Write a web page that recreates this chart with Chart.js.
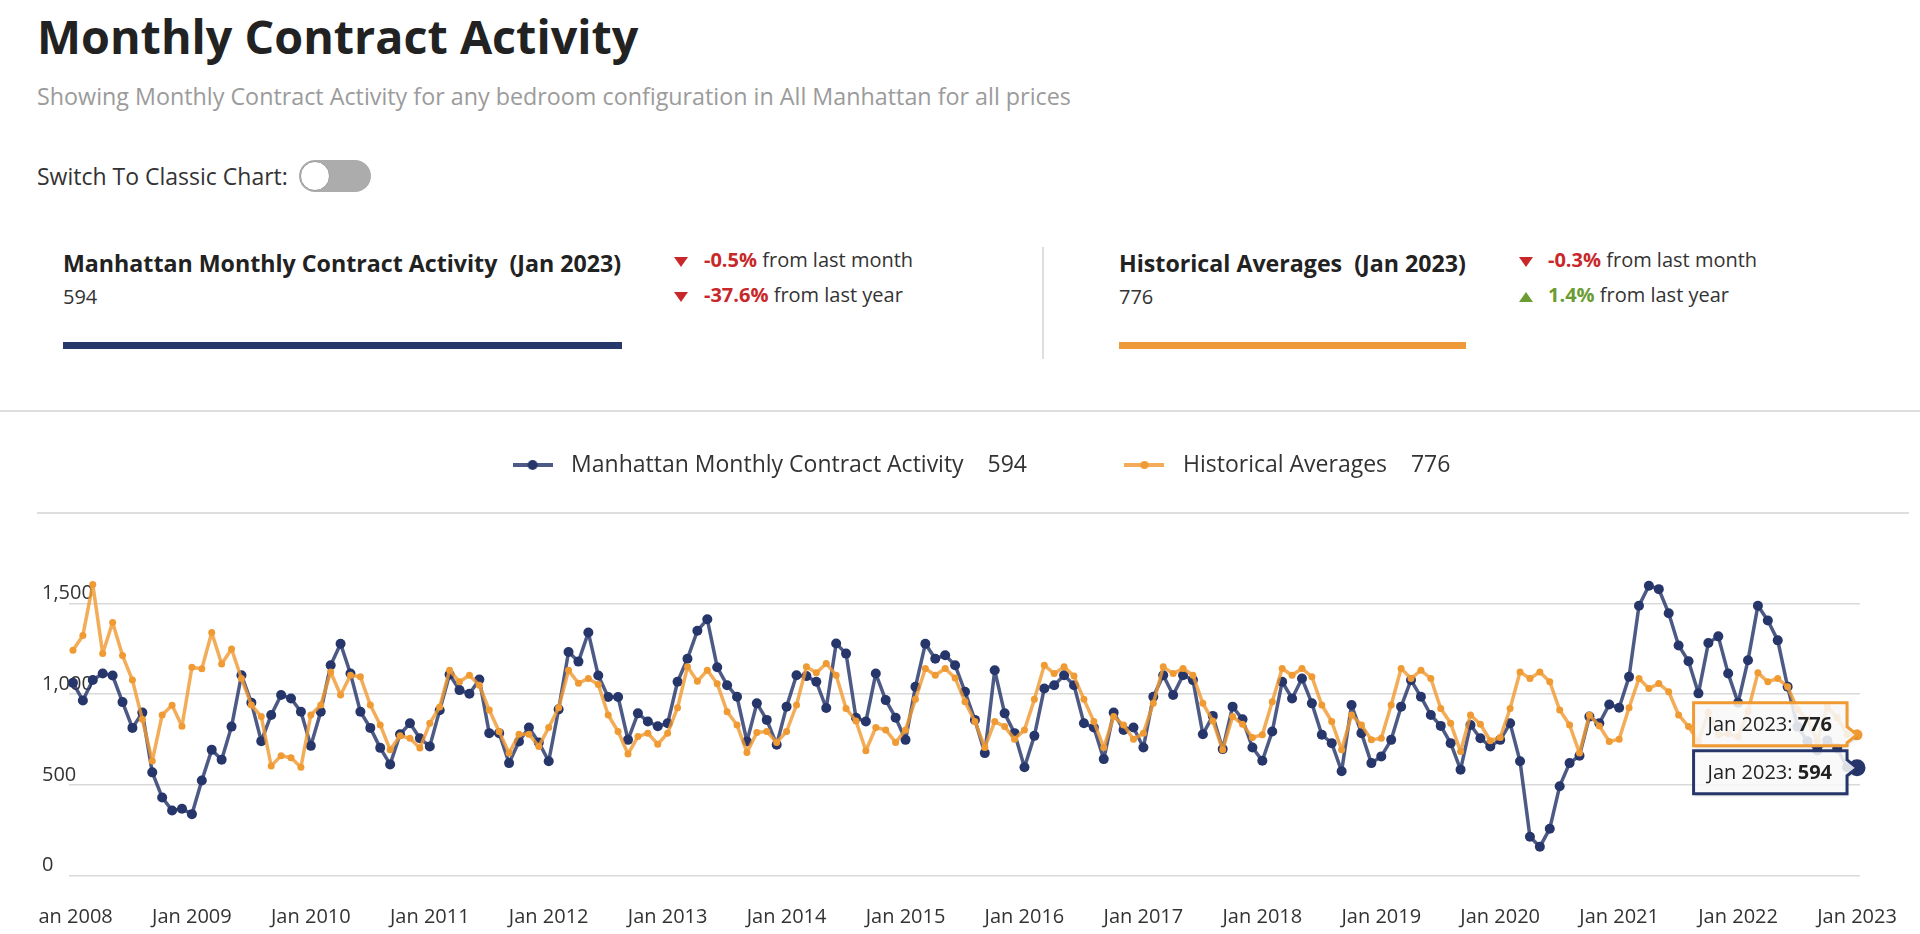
<!DOCTYPE html>
<html>
<head>
<meta charset="utf-8">
<script src="https://cdn.jsdelivr.net/npm/chart.js@4.4.1/dist/chart.umd.min.js"></script>
<style>
html, body { margin: 0; padding: 0; background: #fff; }
body { width: 1920px; height: 934px; position: relative; overflow: hidden; font-family: "Open Sans", sans-serif; color: #333; }
.abs { position: absolute; white-space: nowrap; line-height: 1; }
#title { left: 37px; top: 13px; font-size: 46.7px; font-weight: 700; color: #222; }
#subtitle { left: 37px; top: 85px; font-size: 23.3px; color: #9b9b9b; }
#switchText { left: 37px; top: 165px; font-size: 23px; color: #333; }
#toggle { position: absolute; left: 299px; top: 160px; width: 72px; height: 32px; border-radius: 16px; background: #acacac; }
#toggle .knob { position: absolute; left: 1px; top: 1px; width: 28px; height: 28px; border-radius: 50%; background: #fff; border: 1px solid #999; }
.cardTitle { font-size: 23.2px; font-weight: 700; color: #222; top: 252px; }
.cardValue { font-size: 20px; top: 287px; color: #333; }
.bar { position: absolute; top: 342px; height: 7px; }
.change { font-size: 20px; color: #333; }
.red { color: #c8282a; font-weight: 700; }
.green { color: #6b9c33; font-weight: 700; }
.down { position: absolute; width: 0; height: 0; border-left: 7px solid transparent; border-right: 7px solid transparent; border-top: 10px solid #c8282a; }
.up { position: absolute; width: 0; height: 0; border-left: 7px solid transparent; border-right: 7px solid transparent; border-bottom: 10px solid #6b9c33; }
.line { position: absolute; background: #dedede; }
#chartBox { position: absolute; left: 37px; top: 411px; width: 1876px; height: 523px; }
</style>
</head>
<body>
<div id="title" class="abs">Monthly Contract Activity</div>
<div id="subtitle" class="abs">Showing Monthly Contract Activity for any bedroom configuration in All Manhattan for all prices</div>
<div id="switchText" class="abs">Switch To Classic Chart:</div>
<div id="toggle"><div class="knob"></div></div>

<div class="abs cardTitle" style="left:63px">Manhattan Monthly Contract Activity&nbsp; (Jan 2023)</div>
<div class="abs cardValue" style="left:63px">594</div>
<div class="bar" style="left:63px;width:559px;background:#27386a"></div>
<div class="down" style="left:674px;top:257px"></div>
<div class="abs change" style="left:704px;top:250px"><span class="red">-0.5%</span> from last month</div>
<div class="down" style="left:674px;top:292px"></div>
<div class="abs change" style="left:704px;top:285px"><span class="red">-37.6%</span> from last year</div>

<div class="line" style="left:1042px;top:247px;width:2px;height:112px"></div>

<div class="abs cardTitle" style="left:1119px">Historical Averages&nbsp; (Jan 2023)</div>
<div class="abs cardValue" style="left:1119px">776</div>
<div class="bar" style="left:1119px;width:347px;background:#ee9a3a"></div>
<div class="down" style="left:1519px;top:257px"></div>
<div class="abs change" style="left:1548px;top:250px"><span class="red">-0.3%</span> from last month</div>
<div class="up" style="left:1519px;top:292px"></div>
<div class="abs change" style="left:1548px;top:285px"><span class="green">1.4%</span> from last year</div>

<div class="line" style="left:0;top:410px;width:1920px;height:2px"></div>
<div class="line" style="left:37px;top:512px;width:1872px;height:2px"></div>

<div id="chartBox"><canvas id="chart" width="1876" height="523"></canvas></div>

<script>
const startYear = 2008;
const monthNames = ['Jan', 'Feb', 'Mar', 'Apr', 'May', 'Jun', 'Jul', 'Aug', 'Sep', 'Oct', 'Nov', 'Dec'];
const yearLabels = ['Jan 2008', 'Jan 2009', 'Jan 2010', 'Jan 2011', 'Jan 2012', 'Jan 2013', 'Jan 2014', 'Jan 2015',
  'Jan 2016', 'Jan 2017', 'Jan 2018', 'Jan 2019', 'Jan 2020', 'Jan 2021', 'Jan 2022', 'Jan 2023'];
const yTickValues = [0, 500, 1000, 1500];

// monthly values, Jan 2008 .. Jan 2023
const contractActivity = [
  1062, 965, 1078, 1113, 1102, 956, 814, 898, 569, 431, 359, 369,
  339, 524, 693, 639, 821, 1104, 953, 741, 885, 995, 976, 903,
  715, 903, 1159, 1277, 1113, 903, 814, 704, 613, 779, 839, 757,
  712, 911, 1108, 1022, 1002, 1080, 785, 785, 620, 739, 816, 734,
  630, 916, 1232, 1179, 1339, 1102, 984, 984, 748, 894, 849, 823,
  839, 1068, 1195, 1349, 1412, 1148, 1049, 985, 739, 949, 858, 721,
  931, 1104, 1099, 1068, 923, 1279, 1223, 870, 849, 1113, 967, 870,
  748, 1040, 1277, 1195, 1214, 1159, 1013, 858, 675, 1131, 894, 785,
  597, 770, 1031, 1049, 1104, 1049, 839, 816, 642, 898, 803, 816,
  706, 985, 1104, 995, 1104, 1077, 779, 880, 697, 931, 861, 706,
  633, 794, 1068, 976, 1086, 949, 776, 730, 575, 940, 785, 620,
  657, 748, 931, 1077, 985, 885, 825, 730, 584, 830, 757, 712,
  748, 839, 630, 214, 159, 259, 493, 620, 661, 876, 839, 943,
  925, 1095, 1487, 1597, 1578, 1445, 1268, 1181, 1004, 1281, 1318, 1113,
  952, 1186, 1487, 1405, 1296, 1040, 820, 740, 690, 745, 700, 597,
  594
];
const historicalAverages = [
  1241, 1323, 1604, 1224, 1394, 1212, 1077, 861, 631, 885, 938, 823,
  1148, 1139, 1339, 1166, 1248, 1086, 940, 876, 604, 661, 650, 597,
  885, 940, 1122, 995, 1104, 1095, 940, 830, 693, 770, 757, 703,
  839, 929, 1131, 1068, 1104, 1049, 912, 794, 675, 779, 779, 712,
  816, 925, 1131, 1060, 1086, 1053, 885, 794, 670, 766, 785, 724,
  785, 925, 1150, 1071, 1131, 1057, 903, 830, 679, 788, 794, 734,
  794, 940, 1150, 1117, 1168, 1104, 921, 852, 688, 816, 803, 734,
  803, 971, 1141, 1104, 1141, 1089, 958, 849, 706, 849, 821, 752,
  803, 971, 1159, 1113, 1150, 1099, 971, 849, 706, 876, 830, 752,
  785, 949, 1150, 1113, 1141, 1104, 949, 852, 693, 876, 834, 761,
  776, 958, 1141, 1104, 1141, 1095, 940, 849, 693, 885, 830, 748,
  757, 940, 1141, 1086, 1131, 1086, 921, 839, 684, 885, 834, 743,
  761, 921, 1122, 1086, 1122, 1068, 912, 830, 675, 885, 825, 739,
  752, 925, 1086, 1031, 1058, 1013, 885, 821, 739, 900, 776, 781,
  765, 906, 1117, 1068, 1086, 1040, 915, 860, 741, 930, 870, 778,
  776
];

const navy = '#26366a';
const navyLine = 'rgba(38, 54, 106, 0.82)';
const orange = '#f09a33';
const orangeLine = 'rgba(240, 154, 51, 0.82)';
const last = contractActivity.length - 1;

Chart.defaults.font.family = '"Open Sans", sans-serif';
Chart.defaults.color = '#333';

function legendSymbol(dot, line, r) {
  const c = document.createElement('canvas');
  c.width = 40;
  c.height = 14;
  const g = c.getContext('2d');
  g.strokeStyle = line;
  g.lineWidth = 4;
  g.beginPath();
  g.moveTo(0, 7);
  g.lineTo(40, 7);
  g.stroke();
  g.fillStyle = dot;
  g.beginPath();
  g.arc(20, 7, r, 0, Math.PI * 2);
  g.fill();
  return c;
}
const symbols = [legendSymbol(navy, navyLine, 5), legendSymbol(orange, orangeLine, 4)];

function monthLabel(i) {
  return monthNames[i % 12] + ' ' + (startYear + Math.floor(i / 12));
}

// more room between the legend and the plot
const legendSpacing = {
  id: 'legendSpacing',
  beforeInit(chart) {
    const fit = chart.legend.fit;
    chart.legend.fit = function () {
      fit.call(this);
      this.height += 26;
    };
  }
};

// the two hover boxes at the last point
const endTooltips = {
  id: 'endTooltips',
  afterDraw(chart) {
    const ctx = chart.ctx;
    const h = 43, gap = 5;
    const items = chart.data.datasets.map((ds, i) => {
      const pt = chart.getDatasetMeta(i).data[last];
      return { x: pt.x, y: pt.y, value: ds.data[last].y, color: ds.tipColor };
    }).sort((a, b) => a.y - b.y);
    items.forEach(it => { it.top = it.y - h / 2; });
    const overlap = items[0].top + h + gap - items[1].top;
    if (overlap > 0) {
      items[0].top -= overlap / 2 + 3;
      items[1].top += overlap / 2 - 3;
    }
    items.forEach(it => {
      const pre = monthLabel(last) + ': ';
      const val = String(it.value);
      ctx.save();
      ctx.font = '20px "Open Sans"';
      const w1 = ctx.measureText(pre).width;
      ctx.font = 'bold 20px "Open Sans"';
      const w2 = ctx.measureText(val).width;
      const w = w1 + w2 + 29;
      const right = it.x - 10, left = right - w, top = it.top, bottom = top + h;
      const ay = Math.min(Math.max(it.y, top + 10), bottom - 10);
      ctx.beginPath();
      ctx.moveTo(left, top);
      ctx.lineTo(right, top);
      ctx.lineTo(right, ay - 8);
      ctx.lineTo(it.x, it.y);
      ctx.lineTo(right, ay + 8);
      ctx.lineTo(right, bottom);
      ctx.lineTo(left, bottom);
      ctx.closePath();
      ctx.shadowColor = 'rgba(0,0,0,0.2)';
      ctx.shadowOffsetX = 1;
      ctx.shadowOffsetY = 2;
      ctx.shadowBlur = 3;
      ctx.fillStyle = 'rgba(255,255,255,0.85)';
      ctx.fill();
      ctx.shadowColor = 'transparent';
      ctx.lineWidth = 3;
      ctx.strokeStyle = it.color;
      ctx.lineJoin = 'miter';
      ctx.stroke();
      ctx.fillStyle = '#222';
      ctx.textBaseline = 'middle';
      ctx.textAlign = 'left';
      ctx.font = '20px "Open Sans"';
      ctx.fillText(pre, left + 14, top + h / 2 + 1);
      ctx.font = 'bold 20px "Open Sans"';
      ctx.fillText(val, left + 14 + w1, top + h / 2 + 1);
      ctx.restore();
    });
  }
};

new Chart(document.getElementById('chart'), {
  type: 'line',
  data: {
    datasets: [
      {
        label: 'Manhattan Monthly Contract Activity',
        data: contractActivity.map((v, i) => ({ x: i, y: v })),
        borderColor: navyLine,
        backgroundColor: navy,
        pointBackgroundColor: navy,
        pointBorderWidth: 0,
        pointRadius: c => c.dataIndex === last ? 8.5 : 5,
        borderWidth: 3.5,
        borderJoinStyle: 'round',
        order: 1,
        clip: false,
        tipColor: navy
      },
      {
        label: 'Historical Averages',
        data: historicalAverages.map((v, i) => ({ x: i, y: v })),
        borderColor: orangeLine,
        backgroundColor: orange,
        pointBackgroundColor: orange,
        pointBorderWidth: 0,
        pointRadius: c => c.dataIndex === last ? 5.5 : 3.5,
        borderWidth: 3.5,
        borderJoinStyle: 'round',
        order: 0,
        clip: false,
        tipColor: orange
      }
    ]
  },
  options: {
    responsive: false,
    animation: false,
    events: [],
    layout: { padding: { top: 32.5, left: 32, right: 26, bottom: 5 } },
    plugins: {
      tooltip: { enabled: false },
      legend: {
        position: 'top',
        labels: {
          usePointStyle: true,
          pointStyleWidth: 54,
          padding: 10,
          color: '#333',
          font: { size: 23 },
          generateLabels(chart) {
            return chart.data.datasets.map((ds, i) => ({
              text: ds.label + '    ' + ds.data[last].y + (i === 0 ? '\u2003\u2003\u2003\u2002' : ''),
              pointStyle: symbols[i],
              datasetIndex: i,
              fillStyle: ds.backgroundColor,
              strokeStyle: ds.backgroundColor,
              lineWidth: 0,
              fontColor: '#333',
              hidden: false
            }));
          }
        }
      }
    },
    scales: {
      x: {
        type: 'linear',
        min: -0.4,
        max: 180.3,
        afterBuildTicks(scale) {
          scale.ticks = yearLabels.map((l, i) => ({ value: i * 12 }));
        },
        afterFit(scale) {
          scale.height = 53.3;
          scale.paddingLeft = 0;
          scale.paddingRight = 53;
        },
        grid: { display: false, drawTicks: false },
        border: { display: false },
        ticks: {
          autoSkip: false,
          maxRotation: 0,
          padding: 29.3,
          color: '#333',
          font: { size: 20 },
          callback: v => yearLabels[Math.round(v / 12)]
        }
      },
      y: {
        min: 0,
        max: 2000,
        afterBuildTicks(scale) {
          scale.ticks = yTickValues.map(v => ({ value: v }));
        },
        afterFit(scale) {
          scale.width = 0;
          scale.paddingTop = 0;
          scale.paddingBottom = 0;
        },
        grid: { color: '#d9d9d9', lineWidth: 1.5, drawTicks: false },
        border: { display: false },
        ticks: {
          mirror: true,
          padding: -27,
          labelOffset: -10,
          color: '#333',
          font: { size: 20 },
          callback: v => v.toLocaleString('en-US')
        }
      }
    }
  },
  plugins: [legendSpacing, endTooltips]
});
</script>
</body>
</html>
